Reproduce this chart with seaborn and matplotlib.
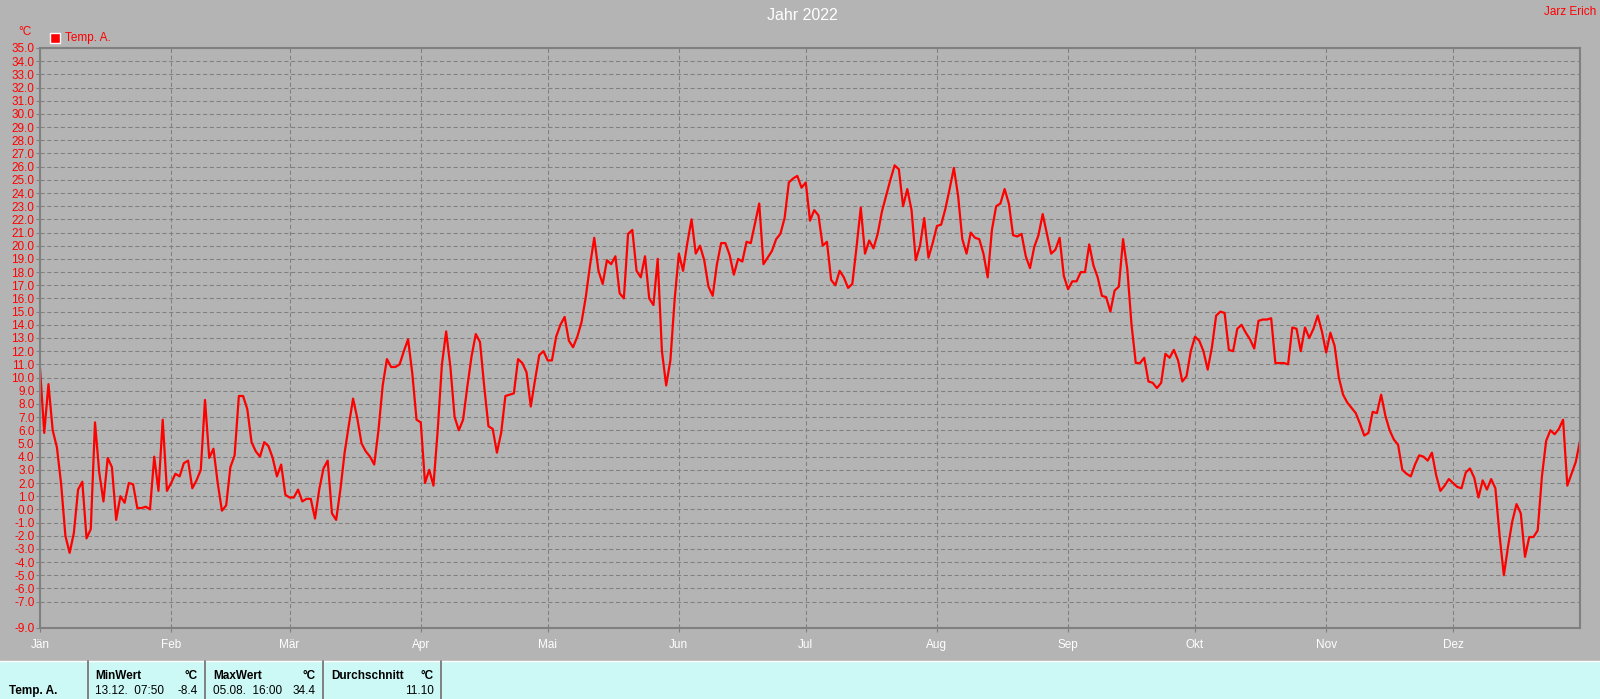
import matplotlib
matplotlib.use('Agg')
import matplotlib.pyplot as plt
from matplotlib.patches import Rectangle
from matplotlib.lines import Line2D
import numpy as np
import pandas as pd
import seaborn as sns

# daily mean temperature 2022
temp = [
    10.7, 5.8, 9.5, 6.0, 4.7, 1.9, -2.0, -3.3, -1.8, 1.5,
    2.1, -2.2, -1.5, 6.6, 2.8, 0.6, 3.9, 3.2, -0.8, 1.0,
    0.5, 2.0, 1.9, 0.1, 0.1, 0.2, 0.0, 4.0, 1.4, 6.8,
    1.4, 2.0, 2.7, 2.5, 3.5, 3.7, 1.6, 2.2, 3.0, 8.3,
    3.9, 4.6, 2.0, -0.1, 0.3, 3.2, 4.1, 8.6, 8.6, 7.6,
    5.1, 4.4, 4.0, 5.1, 4.8, 3.9, 2.5, 3.4, 1.1, 0.9,
    0.9, 1.5, 0.6, 0.8, 0.8, -0.7, 1.5, 3.1, 3.7, -0.3,
    -0.8, 1.5, 4.3, 6.4, 8.4, 6.9, 5.0, 4.4, 4.0, 3.4,
    6.0, 9.4, 11.4, 10.8, 10.8, 11.0, 12.0, 12.9, 10.3, 6.8,
    6.6, 2.0, 3.0, 1.8, 6.0, 11.0, 13.5, 10.8, 7.0, 6.0,
    6.8, 9.3, 11.6, 13.3, 12.7, 9.3, 6.3, 6.1, 4.3, 5.8,
    8.6, 8.7, 8.8, 11.4, 11.1, 10.4, 7.8, 9.8, 11.7, 12.0,
    11.3, 11.3, 13.1, 14.0, 14.6, 12.8, 12.3, 13.1, 14.2, 16.1,
    18.5, 20.6, 18.1, 17.1, 18.9, 18.6, 19.2, 16.4, 16.0, 20.9,
    21.2, 18.1, 17.6, 19.2, 16.0, 15.5, 19.0, 12.0, 9.4, 11.3,
    15.9, 19.4, 18.1, 20.2, 22.0, 19.4, 20.0, 18.9, 16.9, 16.2,
    18.6, 20.2, 20.2, 19.3, 17.8, 19.0, 18.8, 20.3, 20.2, 21.7,
    23.2, 18.6, 19.1, 19.6, 20.5, 20.9, 22.1, 24.8, 25.1, 25.3,
    24.4, 24.8, 21.9, 22.7, 22.3, 20.0, 20.3, 17.4, 17.0, 18.1,
    17.6, 16.8, 17.1, 19.9, 22.9, 19.4, 20.4, 19.8, 20.9, 22.6,
    23.8, 25.0, 26.1, 25.8, 23.0, 24.3, 22.7, 18.9, 20.0, 22.1,
    19.1, 20.2, 21.5, 21.6, 22.8, 24.3, 25.9, 23.8, 20.5, 19.4,
    21.0, 20.6, 20.5, 19.4, 17.6, 21.2, 23.0, 23.2, 24.3, 23.2,
    20.8, 20.7, 20.9, 19.2, 18.3, 19.9, 20.8, 22.4, 20.9, 19.4,
    19.7, 20.6, 17.7, 16.7, 17.3, 17.3, 18.0, 18.0, 20.1, 18.5,
    17.6, 16.2, 16.1, 15.0, 16.6, 16.9, 20.5, 18.2, 14.0, 11.1,
    11.1, 11.5, 9.7, 9.6, 9.2, 9.6, 11.8, 11.5, 12.1, 11.3,
    9.7, 10.1, 12.0, 13.1, 12.8, 12.0, 10.6, 12.3, 14.7, 15.0,
    14.9, 12.1, 12.0, 13.7, 14.0, 13.4, 12.9, 12.2, 14.3, 14.4,
    14.4, 14.5, 11.1, 11.1, 11.1, 11.0, 13.8, 13.7, 12.0, 13.8,
    13.0, 13.7, 14.7, 13.5, 11.9, 13.4, 12.4, 10.0, 8.7, 8.1,
    7.7, 7.3, 6.5, 5.6, 5.8, 7.4, 7.3, 8.7, 7.1, 6.0,
    5.3, 4.9, 3.0, 2.7, 2.5, 3.4, 4.1, 4.0, 3.7, 4.3,
    2.6, 1.4, 1.8, 2.3, 2.0, 1.7, 1.6, 2.8, 3.1, 2.4,
    0.9, 2.2, 1.5, 2.3, 1.6, -2.0, -5.0, -2.8, -0.9, 0.4,
    -0.3, -3.6, -2.1, -2.1, -1.6, 2.5, 5.2, 6.0, 5.7, 6.1,
    6.8, 1.8, 2.7, 3.6, 5.2,
]
months = ['Jän', 'Feb', 'Mär', 'Apr', 'Mai', 'Jun', 'Jul', 'Aug', 'Sep', 'Okt', 'Nov', 'Dez']
y_ticks = [-9] + list(range(-7, 36))

title = 'Jahr 2022'
owner = 'Jarz Erich'
series_name = 'Temp. A.'
table_head = ['MinWert', 'MaxWert', 'Durchschnitt']
table_when = ['13.12.  07:50', '05.08.  16:00', '']
table_value = ['-8.4', '34.4', '11.10']

W, H = 1600, 699
BG = '#b4b4b4'
GRID = '#808080'
CYAN = '#ccf9f6'

sns.set_style('ticks')
plt.rcParams['font.family'] = ['Liberation Sans', 'DejaVu Sans']

df = pd.DataFrame({'day': np.arange(len(temp)), 'temp': temp})
month_start = pd.date_range('2022-01-01', periods=12, freq='MS').dayofyear - 1


def fx(px):
    return px / W


def fy(py):
    return 1 - py / H


fig = plt.figure(figsize=(W / 100, H / 100), dpi=100, facecolor=BG)
ax = fig.add_axes([fx(40), fy(628), (1580 - 40) / W, (628 - 48) / H])
ax.set_facecolor(BG)

sns.lineplot(data=df, x='day', y='temp', ax=ax, color='#ff0000', linewidth=1.6)

ax.set_xlim(0, len(temp) - 1)
ax.set_ylim(-9, 35)
ax.set_yticks(y_ticks)
ax.set_yticklabels([f'{v:.1f}' for v in y_ticks])
ax.set_xticks(month_start)
ax.set_xticklabels(months)
ax.set_xlabel('')
ax.set_ylabel('')
ax.grid(True, color=GRID, linestyle=(0, (4, 2.5)), linewidth=0.75)
ax.set_axisbelow(True)
for s in ax.spines.values():
    s.set_visible(True)
    s.set_color(GRID)
    s.set_linewidth(1.5)
ax.tick_params(axis='y', colors=GRID, labelcolor='red', labelsize=8.5, length=3, width=0.8, pad=1)
ax.tick_params(axis='x', colors=GRID, labelcolor='white', labelsize=8.5, length=3, width=0.8, pad=5)

# header texts and legend
fig.text(fx(802), fy(15), title, color='white', fontsize=11.5, ha='center', va='center')
fig.text(fx(1596), fy(12), owner, color='red', fontsize=8.5, ha='right', va='center')
fig.text(fx(25), fy(32), '°C', color='red', fontsize=8.5, ha='center', va='center')
fig.patches.append(Rectangle((fx(50), fy(43)), 10 / W, 10 / H, transform=fig.transFigure,
                             facecolor='#ff0000', edgecolor='white', linewidth=1))
fig.text(fx(65), fy(38), series_name, color='red', fontsize=8.5, ha='left', va='center')

# statistics table at the bottom
fig.patches.append(Rectangle((0, 0), 1, 38 / H, transform=fig.transFigure,
                             facecolor=CYAN, edgecolor='none'))
fig.lines.append(Line2D([0, 1], [fy(660.5)] * 2, transform=fig.transFigure, color='white', linewidth=1))
for xs in [88, 205, 323, 441]:
    fig.lines.append(Line2D([fx(xs), fx(xs)], [fy(661), 0], transform=fig.transFigure,
                            color=GRID, linewidth=1.4))

fig.text(fx(9), fy(691), series_name, color='black', fontsize=8.5, fontweight='bold', va='center')
col_left = [95, 213, 331]
col_right = [198, 316, 434]
for head, when, val, xl, xr in zip(table_head, table_when, table_value, col_left, col_right):
    fig.text(fx(xl), fy(676), head, color='black', fontsize=8.5, fontweight='bold', va='center')
    fig.text(fx(xr), fy(676), '°C', color='black', fontsize=8.5, fontweight='bold', va='center', ha='right')
    fig.text(fx(xl), fy(691), when, color='black', fontsize=8.5, va='center')
    fig.text(fx(xr), fy(691), val, color='black', fontsize=8.5, va='center', ha='right')

fig.savefig('out.png', dpi=100, facecolor=BG)
